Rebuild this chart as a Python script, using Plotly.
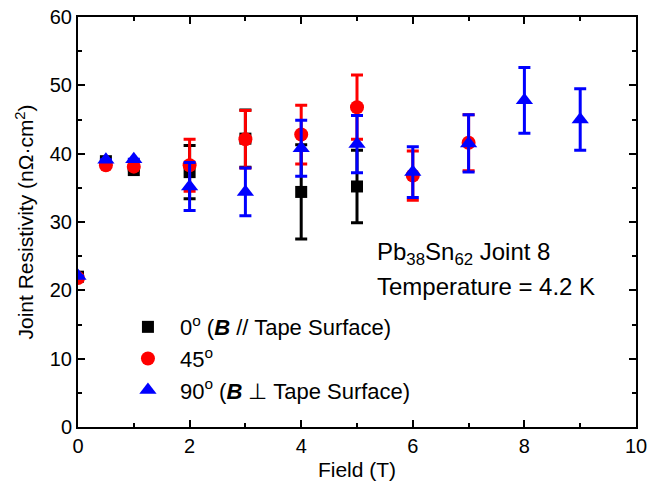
import plotly.graph_objects as go

field_0 = [0, 0.5, 1, 2, 3, 4, 5]
rho_0 = [22.0, 38.9, 37.6, 37.3, 42.2, 34.4, 35.2]
err_0 = [0, 0, 0, 3.9, 4.2, 6.9, 5.3]

field_45 = [0, 0.5, 1, 2, 3, 4, 5, 6, 7]
rho_45 = [21.8, 38.3, 38.1, 38.3, 42.1, 42.8, 46.8, 36.8, 41.6]
err_45 = [0, 0, 0, 3.8, 4.2, 4.3, 4.7, 3.6, 4.1]

field_90 = [0, 0.5, 1, 2, 3, 4, 5, 6, 7, 8, 9]
rho_90 = [22.1, 39.1, 39.2, 35.2, 34.4, 40.8, 41.4, 37.3, 41.5, 47.8, 45.0]
err_90 = [0, 0, 0, 3.5, 3.5, 4.1, 4.2, 3.7, 4.2, 4.8, 4.5]

names = ["0<sup>o</sup> (<b><i>B</i></b> // Tape Surface)",
         "45<sup>o</sup>",
         "90<sup>o</sup> (<b><i>B</i></b> \u22a5 Tape Surface)"]

FONT = "Liberation Sans, Arial"

fig = go.Figure()
specs = [(field_0, rho_0, err_0, "black", "square", 12),
         (field_45, rho_45, err_45, "#ff0000", "circle", 14),
         (field_90, rho_90, err_90, "#0000ff", "triangle-up", 15)]
for (x, y, e, c, sym, sz), nm in zip(specs, names):
    fig.add_trace(go.Scatter(
        x=x, y=y, mode="markers", name=nm,
        marker=dict(color=c, symbol=sym, size=sz, line=dict(width=0)),
        error_y=dict(type="data", array=e, visible=True, color=c, thickness=3, width=6),
    ))

axis_common = dict(
    showline=True, linecolor="black", linewidth=2, mirror="ticks",
    ticks="inside", ticklen=7, tickwidth=2, tickcolor="black",
    showgrid=False, zeroline=False,
    tickfont=dict(family=FONT, size=20, color="black"),
)
fig.update_xaxes(range=[0, 10], dtick=2,
                 minor=dict(dtick=1, ticks="inside", ticklen=4, tickwidth=2, tickcolor="black"),
                 title=dict(text="Field (T)", font=dict(family=FONT, size=21, color="black"), standoff=6),
                 **axis_common)
fig.update_yaxes(range=[0, 60], dtick=10,
                 minor=dict(dtick=5, ticks="inside", ticklen=4, tickwidth=2, tickcolor="black"),
                 title=dict(text="Joint Resistivity (n\u03a9\u00b7cm<sup>2</sup>)", font=dict(family=FONT, size=21, color="black"), standoff=10),
                 **axis_common)

fig.add_annotation(x=5.33, y=25.4, xref="x", yref="y", xanchor="left", yanchor="middle",
                   text="Pb<sub>38</sub>Sn<sub>62</sub> Joint 8", showarrow=False,
                   font=dict(family=FONT, size=24, color="black"))
fig.add_annotation(x=5.33, y=20.6, xref="x", yref="y", xanchor="left", yanchor="middle",
                   text="Temperature = 4.2 K", showarrow=False,
                   font=dict(family=FONT, size=24, color="black"))

# Margins sized so that automargin needs no extra room; the page is shifted up 6px
# so the plot frame lands at x 78..638, y 16..429 of the 649x486 window.
fig.update_layout(
    width=659, height=496,
    margin=dict(l=78, r=21, t=22, b=61, pad=0),
    plot_bgcolor="white", paper_bgcolor="white",
    legend=dict(x=0.068, y=0.295, xanchor="left", yanchor="top",
                bgcolor="rgba(0,0,0,0)", tracegroupgap=0, itemwidth=54,
                font=dict(family=FONT, size=22, color="black")),
)

fig.write_html("out.html", config={"displayModeBar": False},
               post_script="document.body.style.margin='-6px 0 0 0';document.body.style.overflow='hidden';")
